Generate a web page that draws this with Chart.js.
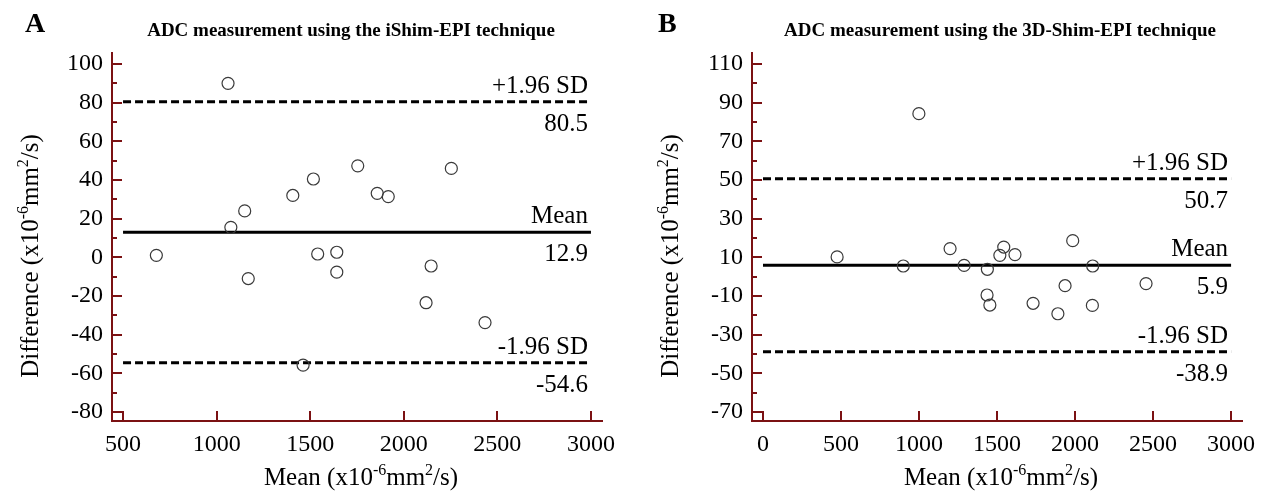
<!DOCTYPE html>
<html>
<head>
<meta charset="utf-8">
<script src="https://cdn.jsdelivr.net/npm/chart.js@4/dist/chart.umd.min.js"></script>
<style>
  body { margin: 0; background: #fff; }
  .panel { position: absolute; top: 0; width: 633px; height: 493px; }
</style>
</head>
<body>
<div class="panel" style="left:0"><canvas id="chartA"></canvas></div>
<div class="panel" style="left:633px"><canvas id="chartB"></canvas></div>
<script>
const serif = "'Liberation Serif', 'Times New Roman', serif";
const axisColor = '#7b1113';

// panel A - iShim-EPI
const meanA = [678, 1061, 1076, 1150, 1169, 1407, 1462, 1517, 1540, 1642, 1642, 1754, 1858, 1917, 2119, 2146, 2254, 2434];
const diffA = [1, 90, 15.5, 24, -11, 32, -55.8, 40.5, 1.7, 2.6, -7.7, 47.3, 33.1, 31.4, -23.5, -4.5, 46, -33.8];
const limitsA = [80.5, 12.9, -54.6]; // +1.96 SD, mean, -1.96 SD
const xTicksA = [500, 1000, 1500, 2000, 2500, 3000];
const yTicksA = [-80, -60, -40, -20, 0, 20, 40, 60, 80, 100];

// panel B - 3D-Shim-EPI
const meanB = [475, 899, 999, 1199, 1289, 1436, 1438, 1454, 1518, 1543, 1615, 1731, 1890, 1936, 1985, 2111, 2113, 2455];
const diffB = [10.2, 5.5, 84.3, 14.5, 5.8, -9.5, 3.8, -14.7, 11, 15.3, 11.4, -13.8, -19.2, -4.7, 18.6, -14.9, 5.5, -3.6];
const limitsB = [50.7, 5.9, -38.9];
const xTicksB = [0, 500, 1000, 1500, 2000, 2500, 3000];
const yTicksB = [-70, -50, -30, -10, 10, 30, 50, 70, 90, 110];

const limitNames = ['+1.96 SD', 'Mean', '-1.96 SD'];
const unitParts = [['x10'], ['-6', true], ['mm'], ['2', true], ['/s)']];

// text with superscript pieces, left aligned at x
function richWidth(ctx, parts, size) {
  let w = 0;
  parts.forEach(([t, sup]) => {
    ctx.font = (sup ? Math.round(size * 0.62) : size) + 'px ' + serif;
    w += ctx.measureText(t).width;
  });
  return w;
}
function drawRich(ctx, parts, x, y, size) {
  parts.forEach(([t, sup]) => {
    ctx.font = (sup ? Math.round(size * 0.62) : size) + 'px ' + serif;
    ctx.fillText(t, x, sup ? y - size * 0.4 : y);
    x += ctx.measureText(t).width;
  });
}

const decor = {
  id: 'decor',
  afterDraw(chart, args, o) {
    const {ctx, chartArea: a, scales: {x, y}} = chart;
    ctx.save();
    // inward tick marks
    ctx.strokeStyle = axisColor;
    ctx.lineWidth = 2;
    ctx.beginPath();
    y.ticks.forEach(t => {
      const py = Math.round(y.getPixelForValue(t.value));
      ctx.moveTo(a.left, py); ctx.lineTo(a.left + 10, py);
      const mv = t.value + 10;
      if (mv < y.max) {
        const pm = Math.round(y.getPixelForValue(mv));
        ctx.moveTo(a.left, pm); ctx.lineTo(a.left + 5, pm);
      }
    });
    x.ticks.forEach(t => {
      const px = Math.round(x.getPixelForValue(t.value));
      ctx.moveTo(px, a.bottom); ctx.lineTo(px, a.bottom - 10);
    });
    ctx.stroke();

    ctx.fillStyle = '#000';
    // limit labels
    ctx.textAlign = 'right';
    ctx.textBaseline = 'alphabetic';
    ctx.font = '25px ' + serif;
    const lx = x.getPixelForValue(o.xEnd) - 3;
    o.limits.forEach((v, i) => {
      const py = y.getPixelForValue(v);
      ctx.fillText(limitNames[i], lx, py - 9);
      ctx.fillText(v.toFixed(1), lx, py + 29);
    });

    // panel letter and title
    ctx.textAlign = 'left';
    ctx.font = 'bold 28px ' + serif;
    ctx.fillText(o.letter, 25, 32);
    ctx.textAlign = 'center';
    ctx.font = 'bold 19px ' + serif;
    ctx.fillText(o.title, o.titleX, 36);

    // axis titles
    ctx.textAlign = 'left';
    const xParts = [['Mean ('], ...unitParts];
    const xw = richWidth(ctx, xParts, 25);
    drawRich(ctx, xParts, (a.left + a.right) / 2 + 4 - xw / 2, 485, 25);

    const yParts = [['Difference ('], ...unitParts];
    const yw = richWidth(ctx, yParts, 25);
    ctx.translate(o.yTitleX, 256);
    ctx.rotate(-Math.PI / 2);
    drawRich(ctx, yParts, -yw / 2, 0, 25);
    ctx.restore();
  }
};

function makeChart(id, p) {
  const lineSet = (v, dash) => ({
    data: [{x: p.xTicks[0], y: v}, {x: p.xTicks[p.xTicks.length - 1], y: v}],
    showLine: true,
    borderColor: '#000',
    borderWidth: 3,
    borderDash: dash,
    pointRadius: 0,
    order: 1
  });
  return new Chart(document.getElementById(id), {
    type: 'scatter',
    data: {
      datasets: [
        {
          data: p.means.map((m, i) => ({x: m, y: p.diffs[i]})),
          pointStyle: 'circle',
          pointRadius: 6,
          pointBorderColor: '#3a3a3a',
          pointBorderWidth: 1.2,
          pointBackgroundColor: 'rgba(255,255,255,0)',
          order: 0
        },
        lineSet(p.limits[0], [8, 4]),
        lineSet(p.limits[1], []),
        lineSet(p.limits[2], [8, 4])
      ]
    },
    options: {
      responsive: true,
      maintainAspectRatio: false,
      animation: false,
      layout: {padding: {left: 0, right: p.padRight, top: 53, bottom: 0}},
      plugins: {
        legend: {display: false},
        tooltip: {enabled: false},
        decor: {
          letter: p.letter, title: p.title, titleX: p.titleX, yTitleX: p.yTitleX,
          limits: p.limits, xEnd: p.xTicks[p.xTicks.length - 1]
        }
      },
      scales: {
        x: {
          type: 'linear',
          min: p.xRange[0], max: p.xRange[1],
          afterBuildTicks: s => { s.ticks = p.xTicks.map(v => ({value: v})); },
          afterFit: s => { s.height = 72; },
          grid: {display: false, drawTicks: false},
          border: {display: true, color: axisColor, width: 2},
          ticks: {font: {family: serif, size: 24}, color: '#000', padding: 9, maxRotation: 0, autoSkip: false,
                  callback: v => String(v)}
        },
        y: {
          type: 'linear',
          min: p.yRange[0], max: p.yRange[1],
          afterBuildTicks: s => { s.ticks = p.yTicks.map(v => ({value: v})); },
          afterFit: s => { s.width = p.yWidth; },
          grid: {display: false, drawTicks: false},
          border: {display: true, color: axisColor, width: 2},
          ticks: {font: {family: serif, size: 24}, color: '#000', padding: 9, autoSkip: false,
                  callback: v => String(v)}
        }
      }
    },
    plugins: [decor]
  });
}

makeChart('chartA', {
  means: meanA, diffs: diffA, limits: limitsA, xTicks: xTicksA, yTicks: yTicksA,
  xRange: [441, 3059], yRange: [-84.7, 105.7], padRight: 31, yWidth: 112,
  letter: 'A', title: 'ADC measurement using the iShim-EPI technique', titleX: 351, yTitleX: 38
});
makeChart('chartB', {
  means: meanB, diffs: diffB, limits: limitsB, xTicks: xTicksB, yTicks: yTicksB,
  xRange: [-70.5, 3070], yRange: [-74.7, 115.7], padRight: 24, yWidth: 119,
  letter: 'B', title: 'ADC measurement using the 3D-Shim-EPI technique', titleX: 367, yTitleX: 45
});
</script>
</body>
</html>
